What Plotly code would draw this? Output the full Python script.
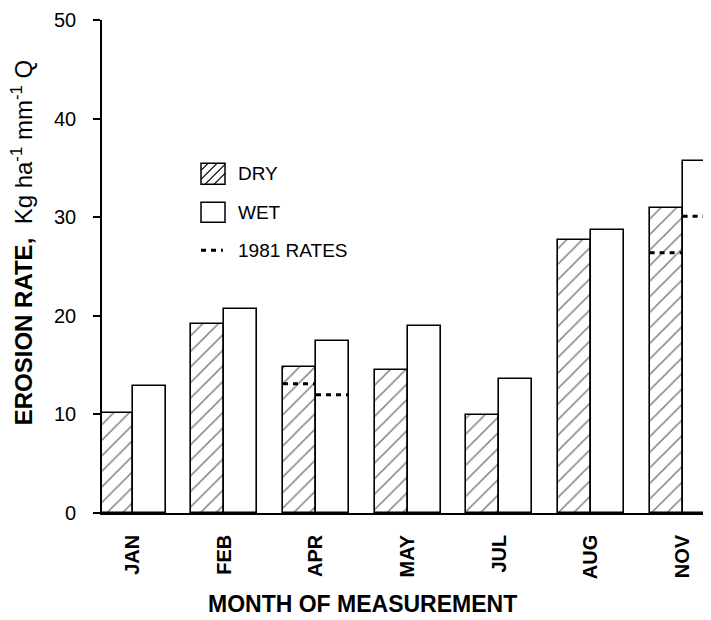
import plotly.graph_objects as go

months = ["JAN", "FEB", "APR", "MAY", "JUL", "AUG", "NOV"]
dry = [10.1, 19.2, 14.8, 14.5, 9.9, 27.7, 30.9]
wet = [12.9, 20.7, 17.4, 19.0, 13.6, 28.7, 35.7]
rates1981_dry = [None, None, 13.1, None, None, None, 26.4]
rates1981_wet = [None, None, 12.0, None, None, None, 30.1]
y_ticks = [0, 10, 20, 30, 40, 50]

# page body has an 8px margin, so the figure is drawn offset by 8px
OFF = 8
W, H = 711 - OFF, 620 - OFF
L, R, T, B = 102 - OFF, 0, 19.5 - OFF, 107
PW, PH = W - L - R, H - T - B
BW = 0.36  # bar width in category units


def px(x):  # screen pixel -> paper
    return (x - OFF - L) / PW


def py(y):
    return (H - B - (y - OFF)) / PH


idx = list(range(len(months)))

fig = go.Figure()
fig.add_trace(go.Bar(
    x=idx, y=dry, width=BW, offset=-BW, name="DRY",
    marker=dict(color="white", line=dict(color="black", width=1.6),
                pattern=dict(shape="/", size=11, solidity=0.14, fgcolor="black", bgcolor="white")),
    showlegend=False))
fig.add_trace(go.Bar(
    x=idx, y=wet, width=BW, offset=0, name="WET",
    marker=dict(color="white", line=dict(color="black", width=1.6)),
    showlegend=False))

# 1981 rates as dashed segments across the bar tops
lx, ly = [], []
for i, (d, w) in enumerate(zip(rates1981_dry, rates1981_wet)):
    if d is not None:
        lx += [i - BW, i, None]
        ly += [d, d, None]
    if w is not None:
        lx += [i, i + BW, None]
        ly += [w, w, None]
fig.add_trace(go.Scatter(x=lx, y=ly, mode="lines", name="1981 RATES",
                         line=dict(color="black", width=3, dash="5px,5px"),
                         showlegend=False, cliponaxis=False))

shapes = []
annotations = []
font_main = "Liberation Sans, Arial, sans-serif"

# manual legend
bx0, bx1 = 201, 225
dy0, dy1 = 163, 184
shapes.append(dict(type="rect", xref="paper", yref="paper",
                   x0=px(bx0), x1=px(bx1), y0=py(dy1), y1=py(dy0),
                   line=dict(color="black", width=1.5), fillcolor="white"))
for c in [-14, -5, 4, 13]:
    pts = []
    for xx in (bx0, bx1):
        yy = dy1 - (xx - bx0) + c
        if dy0 <= yy <= dy1:
            pts.append((xx, yy))
    for yy in (dy0, dy1):
        xx = bx0 + (dy1 - yy) + c
        if bx0 <= xx <= bx1:
            pts.append((xx, yy))
    pts = sorted(set(pts))
    if len(pts) >= 2:
        (xa, ya), (xb, yb) = pts[0], pts[-1]
        shapes.append(dict(type="line", xref="paper", yref="paper",
                           x0=px(xa), y0=py(ya), x1=px(xb), y1=py(yb),
                           line=dict(color="black", width=1.2)))
wy0, wy1 = 202, 222
shapes.append(dict(type="rect", xref="paper", yref="paper",
                   x0=px(bx0), x1=px(bx1), y0=py(wy1), y1=py(wy0),
                   line=dict(color="black", width=1.5), fillcolor="white"))
shapes.append(dict(type="line", xref="paper", yref="paper",
                   x0=px(201), x1=px(223), y0=py(250), y1=py(250),
                   line=dict(color="black", width=3, dash="5px,5px")))

for label, yc in [("DRY", 173), ("WET", 212), ("1981 RATES", 250)]:
    annotations.append(dict(text=label, xref="paper", yref="paper",
                            x=px(236), y=py(yc), xanchor="left", yanchor="middle",
                            showarrow=False, font=dict(size=19, color="black", family=font_main)))

# axis titles
annotations.append(dict(text="<b>EROSION RATE,</b>  Kg ha<sup>-1</sup> mm<sup>-1</sup> Q",
                        xref="paper", yref="paper", x=px(22), y=py(243),
                        textangle=-90, showarrow=False, xanchor="center", yanchor="middle",
                        font=dict(size=24, color="black", family=font_main)))
annotations.append(dict(text="<b>MONTH OF MEASUREMENT</b>",
                        xref="paper", yref="paper", x=px(362), y=py(604),
                        showarrow=False, xanchor="center", yanchor="middle",
                        font=dict(size=23, color="black", family=font_main)))

fig.update_layout(
    width=W, height=H,
    margin=dict(l=L, r=R, t=T, b=B),
    paper_bgcolor="white", plot_bgcolor="white",
    barmode="overlay", bargap=0,
    shapes=shapes, annotations=annotations,
    font=dict(family=font_main, color="black"),
    xaxis=dict(range=[-0.335, 6.31], tickmode="array", tickvals=idx, ticktext=months,
               tickangle=-90, showline=True, linecolor="black", linewidth=1.6,
               ticks="", showgrid=False, zeroline=False, ticklabelstandoff=12,
               tickfont=dict(size=20, family=font_main, weight="bold")),
    yaxis=dict(range=[0, 50], tickvals=y_ticks, showline=True, linecolor="black",
               linewidth=1.6, ticks="outside", ticklen=7, tickwidth=1.5, tickcolor="black",
               showgrid=False, zeroline=False, ticklabelstandoff=13,
               tickfont=dict(size=20, family=font_main)),
)

fig.write_html("out.html")
